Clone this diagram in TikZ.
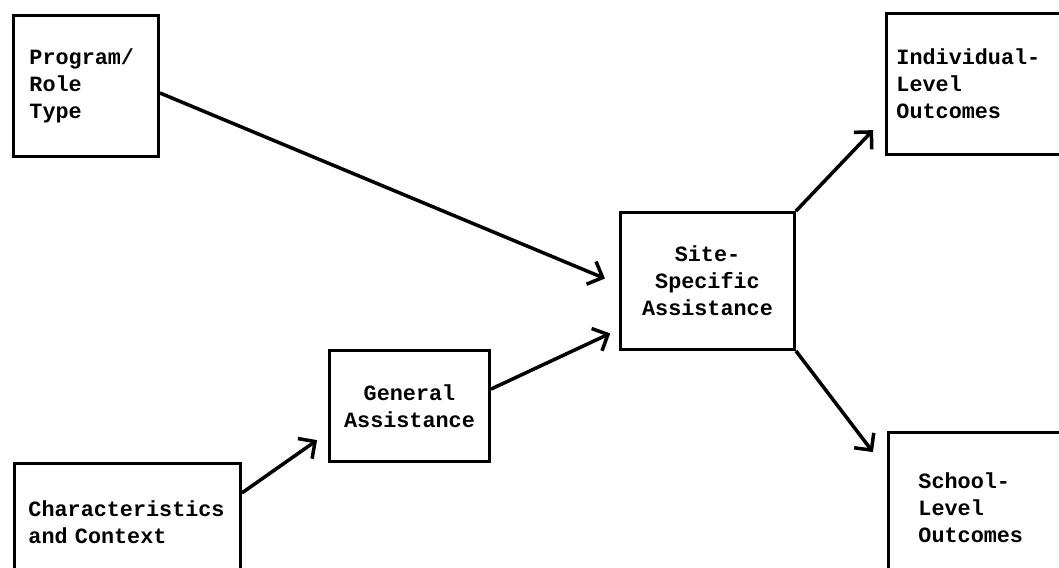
\documentclass[tikz,border=0pt]{standalone}
\usepackage{fontspec}
\setmonofont{Liberation Mono}
\usetikzlibrary{arrows.meta}
\newcommand*{\picW}{1059}
\newcommand*{\picH}{568}

\begin{document}
\begin{tikzpicture}[x=0.02cm, y=-0.02cm,
	box/.style={draw, line width=1.7pt, anchor=north west, inner ysep=0pt, align=left, font=\ttfamily\bfseries\fontsize{12.4}{15.3}\selectfont},
	arr/.style={draw, line width=2pt, ->, >={Straight Barb[length=7pt, width=14pt]}}]
	\useasboundingbox (0,0) rectangle (\picW,\picH);
	\clip (0,0) rectangle (\picW,\picH);
	\node [box, minimum width=2.9cm, minimum height=2.82cm, inner xsep=0.32cm, text width=2.26cm] (prog) at (12,14) {Program/\\Role\\Type};
	\node [box, minimum width=4.52cm, minimum height=2.36cm, inner xsep=0.28cm, text width=3.96cm] (char) at (13,462) {Characteristics\\and Context};
	\node [box, align=center, minimum width=3.2cm, minimum height=2.22cm, inner xsep=0.2cm, text width=2.8cm] (gen) at (328,349) {General\\Assistance};
	\node [box, align=center, minimum width=3.48cm, minimum height=2.74cm, inner xsep=0.2cm, text width=3.08cm] (site) at (619,211) {Site-\\Specific\\Assistance};
	\node [box, minimum width=3.9cm, minimum height=2.82cm, inner xsep=0.2cm, text width=3.5cm] (indiv) at (885,12) {Individual-\\Level\\Outcomes};
	\node [box, minimum width=4cm, minimum height=3cm, inner xsep=0.6cm, text width=2.8cm] (school) at (887,431) {School-\\Level\\Outcomes};
%	connectors
	\path [arr] ([yshift=-4pt]prog.east) -- ([xshift=-8pt, yshift=1.4pt]site.west);
	\path [arr] ([yshift=-17.6pt]char.north east) -- ([xshift=-6.2pt, yshift=13pt]gen.south west);
	\path [arr] ([yshift=9.6pt]gen.east) -- ([xshift=-5pt, yshift=10pt]site.south west);
	\path [arr] (site.north east) -- ([xshift=-6.8pt, yshift=14.7pt]indiv.south west);
	\path [arr] (site.south east) -- ([xshift=-8pt, yshift=-12pt]school.north west);
\end{tikzpicture}
\end{document}
